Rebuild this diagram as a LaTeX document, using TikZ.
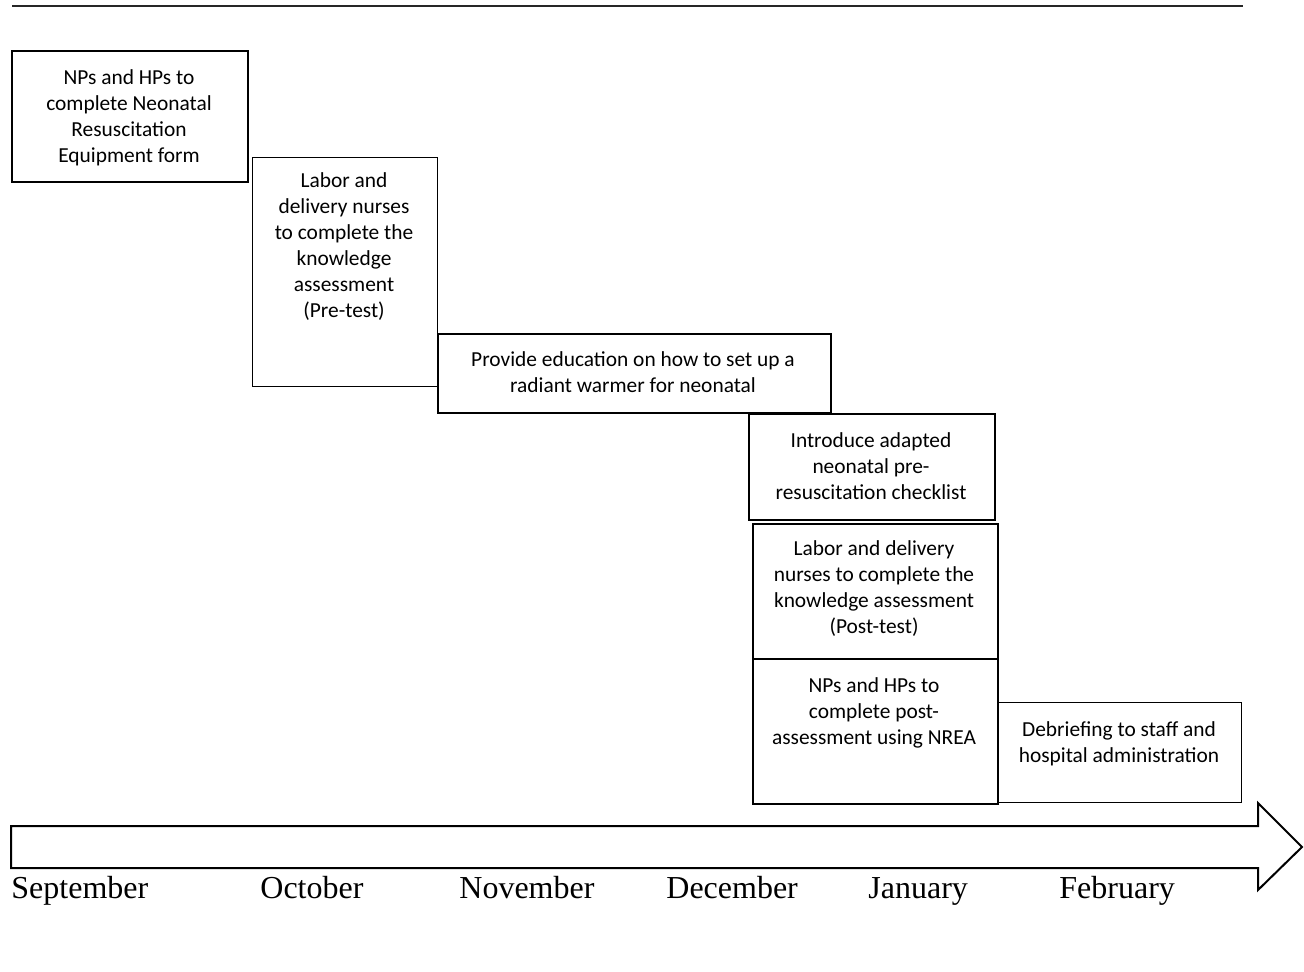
\documentclass[tikz,border=0pt]{standalone}
\usepackage{fontspec}
\setmainfont{Carlito}
\newfontfamily\monthfont{Liberation Serif}
\begin{document}
\begin{tikzpicture}[x=0.5pt,y=-0.5pt,
  box/.style={draw=black, inner sep=0pt, anchor=north west},
  txt/.style={align=center, inner sep=0pt, font=\fontsize{10.7}{13}\selectfont},
  month/.style={anchor=base west, inner sep=0pt, font=\monthfont\fontsize{16}{19}\selectfont}]
\useasboundingbox (0,0) rectangle (1304,972);
% top rule
\coordinate (rl) at (12,6);
\coordinate (rr) at (1243,6);
\draw[line width=1pt, black!85] (rl) -- (rr);
% boxes
\node[box, line width=1pt, minimum width=118pt, minimum height=65.5pt] (b1) at (11,50) {};
\node[box, line width=0.5pt, minimum width=92.5pt, minimum height=114.5pt] (b2) at (252,157) {};
\node[box, line width=0.8pt, minimum width=196.5pt, minimum height=39.5pt] (b3) at (437,333) {};
\node[box, line width=0.8pt, minimum width=123pt, minimum height=53pt] (b4) at (748,413) {};
\node[box, line width=1pt, minimum width=122.5pt, minimum height=67.5pt] (b5) at (752,523) {};
\node[box, line width=1pt, minimum width=122.5pt, minimum height=72.5pt] (b6) at (752,658) {};
\node[box, line width=0.5pt, minimum width=122pt, minimum height=50pt] (b7) at (997,702) {};
% texts
\node[txt] (t1) at (129,118) {NPs and HPs to\\complete Neonatal\\Resuscitation\\Equipment form};
\node[txt] (t2) at (344,247) {Labor and\\delivery nurses\\to complete the\\knowledge\\assessment\\(Pre-test)};
\node[txt] (t3) at (633,372) {Provide education on how to set up a\\radiant warmer for neonatal};
\node[txt] (t4) at (871,466) {Introduce adapted\\neonatal pre-\\resuscitation checklist};
\node[txt] (t5) at (874,589) {Labor and delivery\\nurses to complete the\\knowledge assessment\\(Post-test)};
\node[txt] (t6) at (874,713) {NPs and HPs to\\complete post-\\assessment using NREA};
\node[txt] (t7) at (1119,744) {Debriefing to staff and\\hospital administration};
% timeline arrow
\draw[line width=1pt, line join=miter] (11,826) -- (1258,826) -- (1258,803) -- (1302,847) -- (1258,890) -- (1258,868) -- (11,868) -- cycle;
% months
\node[month] (m1) at (11,898) {September};
\node[month] (m2) at (260,898) {October};
\node[month] (m3) at (459,898) {November};
\node[month] (m4) at (666,898) {December};
\node[month] (m5) at (868,898) {January};
\node[month] (m6) at (1059,898) {February};
\end{tikzpicture}
\end{document}
